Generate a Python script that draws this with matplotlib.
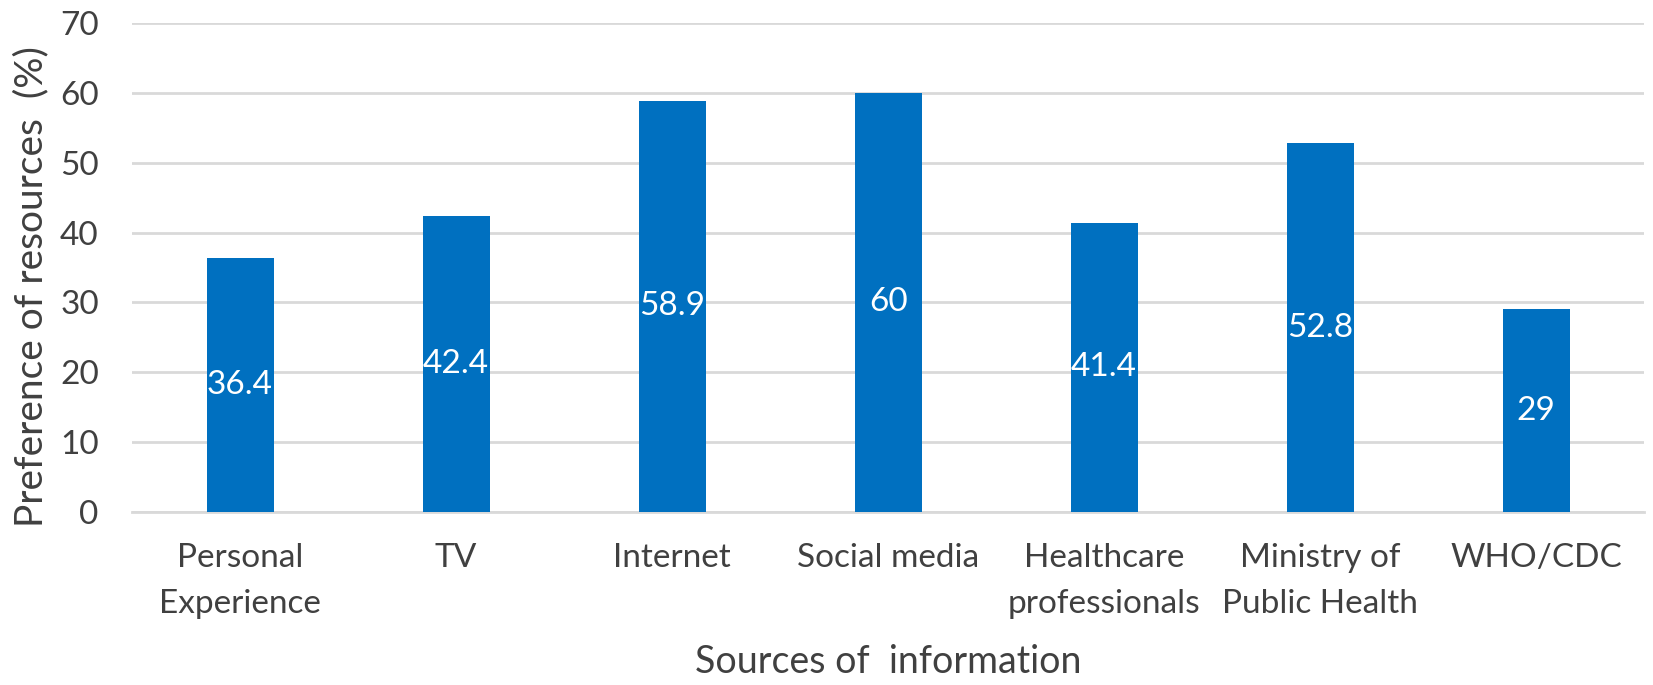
import matplotlib
matplotlib.use('Agg')
import matplotlib.pyplot as plt
import numpy as np

# chart values
categories = ['Personal\nExperience', 'TV', 'Internet', 'Social media',
              'Healthcare\nprofessionals', 'Ministry of\nPublic Health', 'WHO/CDC']
values = [36.4, 42.4, 58.9, 60, 41.4, 52.8, 29]
value_labels = ['36.4', '42.4', '58.9', '60', '41.4', '52.8', '29']
yticks = [0, 10, 20, 30, 40, 50, 60, 70]

BAR_COLOR = '#0070C0'
TEXT_COLOR = '#404040'
GRID_COLOR = '#D9D9D9'

plt.rcParams['font.family'] = ['Lato', 'DejaVu Sans']

fig = plt.figure(figsize=(16.53, 6.85), dpi=100)
ax = fig.add_axes([0.0799, 0.2526, 0.9147, 0.7138])

x = np.arange(len(categories))
bars = ax.bar(x, values, width=0.31, color=BAR_COLOR, zorder=3)

# value labels centred inside each bar
for rect, lab in zip(bars, value_labels):
    ax.text(rect.get_x() + rect.get_width() / 2, rect.get_height() / 2, lab,
            ha='center', va='center', color='white', fontsize=24, zorder=4)

ax.set_xlim(-0.5, len(categories) - 0.5)
ax.set_ylim(0, 70)
ax.set_yticks(yticks)
ax.set_xticks(x)
ax.set_xticklabels(categories, linespacing=1.7)

ax.yaxis.grid(True, color=GRID_COLOR, lw=2, zorder=0)
ax.set_axisbelow(True)
for side in ['top', 'right', 'left']:
    ax.spines[side].set_visible(False)
ax.spines['bottom'].set_color(GRID_COLOR)
ax.spines['bottom'].set_linewidth(2)

ax.tick_params(axis='both', length=0, labelsize=24, colors=TEXT_COLOR)
ax.tick_params(axis='y', pad=24)
ax.tick_params(axis='x', pad=22)

ax.set_xlabel('Sources of  information', fontsize=27, color=TEXT_COLOR)
ax.set_ylabel('Preference of resources  (%)', fontsize=28, color=TEXT_COLOR)
ax.xaxis.set_label_coords(0.5, -0.27)
ax.yaxis.set_label_coords(-0.055, 0.46)

fig.savefig('out.png', dpi=100)
